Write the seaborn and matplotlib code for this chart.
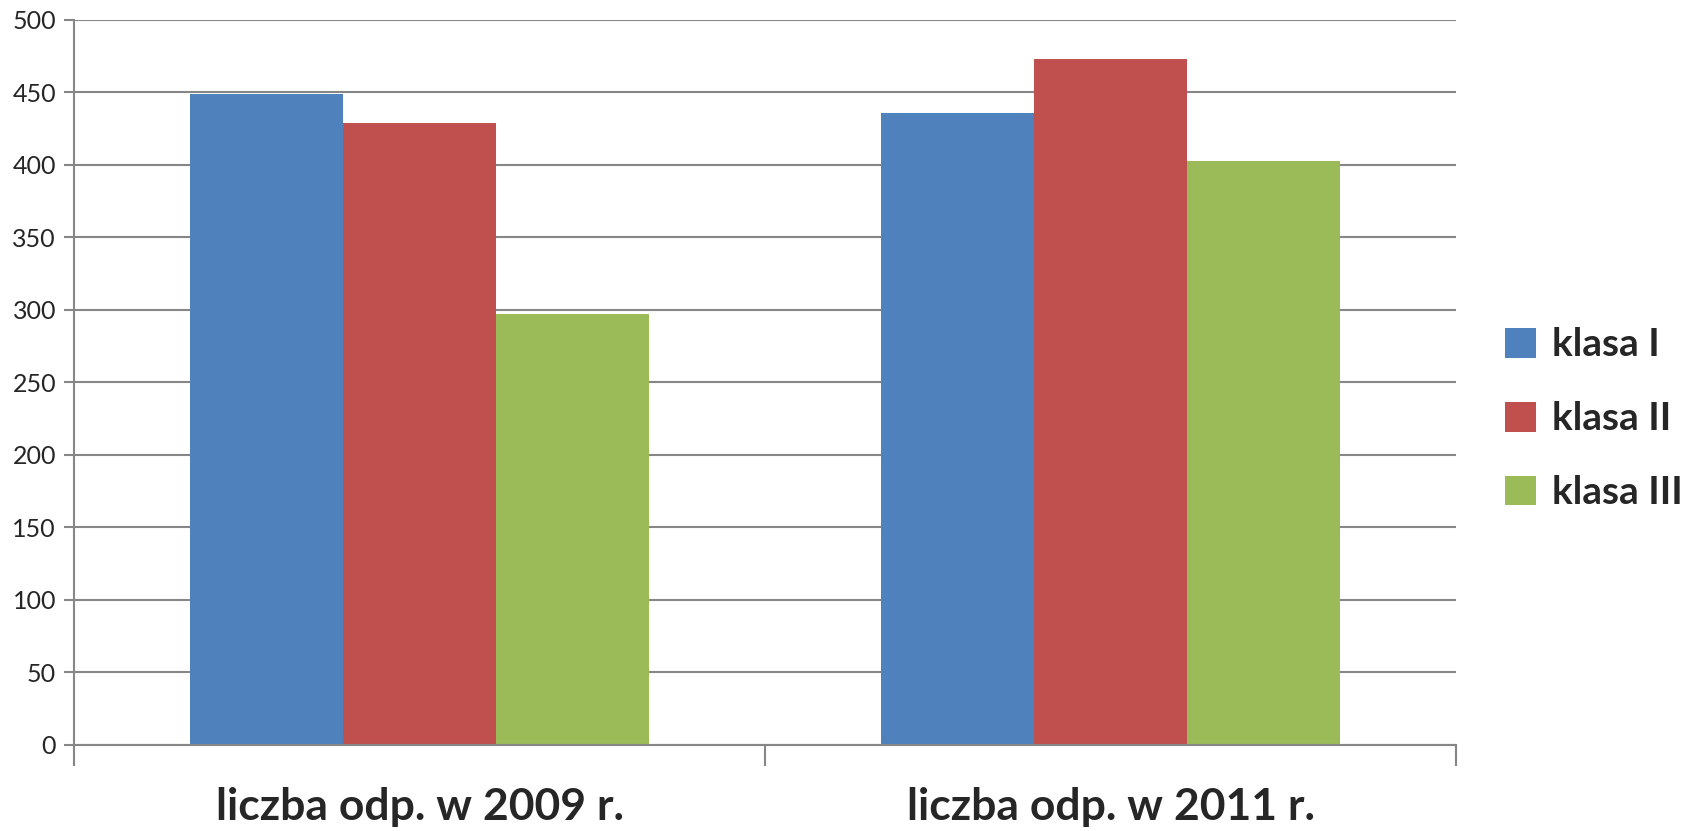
import pandas as pd
import seaborn as sns
import matplotlib.pyplot as plt

sns.set_style("white")
plt.rcParams['font.family'] = ['Lato', 'DejaVu Sans']

years = ['liczba odp. w 2009 r.', 'liczba odp. w 2011 r.']
klasy = ['klasa I', 'klasa II', 'klasa III']
klasa_1 = [449, 436]
klasa_2 = [429, 473]
klasa_3 = [297, 403]
colors = ['#4F81BD', '#C0504D', '#9BBB59']

df = pd.DataFrame({
    'rok': years * 3,
    'klasa': [k for k in klasy for _ in years],
    'liczba': klasa_1 + klasa_2 + klasa_3,
})

fig = plt.figure(figsize=(17.07, 8.31), dpi=100)
ax = fig.add_axes([0.0434, 0.1035, 0.8096, 0.8725])

sns.barplot(data=df, x='rok', y='liczba', hue='klasa', palette=colors,
            width=0.664, saturation=1, gap=0, linewidth=0, ax=ax)

ax.set_ylim(0, 500)
ax.set_xlim(-0.5, 1.5)
ax.set_yticks(range(0, 501, 50))
ax.yaxis.grid(True, color='#868686', linewidth=1.5)
ax.set_axisbelow(True)
ax.set_xlabel('')
ax.set_ylabel('')

for s in ['top', 'right']:
    ax.spines[s].set_visible(False)
for s in ['left', 'bottom']:
    ax.spines[s].set_color('#868686')
    ax.spines[s].set_linewidth(1.5)

ax.tick_params(axis='y', left=True, length=7, width=1.5, color='#868686', labelsize=18, pad=6)
ax.tick_params(axis='x', which='major', length=0, labelsize=32, pad=30)
ax.set_xticks([-0.5, 0.5, 1.5], minor=True)
ax.tick_params(axis='x', which='minor', bottom=True, length=15, width=1.5, color='#868686')
for t in ax.get_xticklabels():
    t.set_fontweight('bold')

ax.legend(loc='center left', bbox_to_anchor=(1.01, 0.45), frameon=False,
          prop={'size': 28, 'weight': 'bold'}, handlelength=0.8, handleheight=0.8,
          handletextpad=0.4, labelspacing=1.0)

plt.savefig('out.png', dpi=100)
